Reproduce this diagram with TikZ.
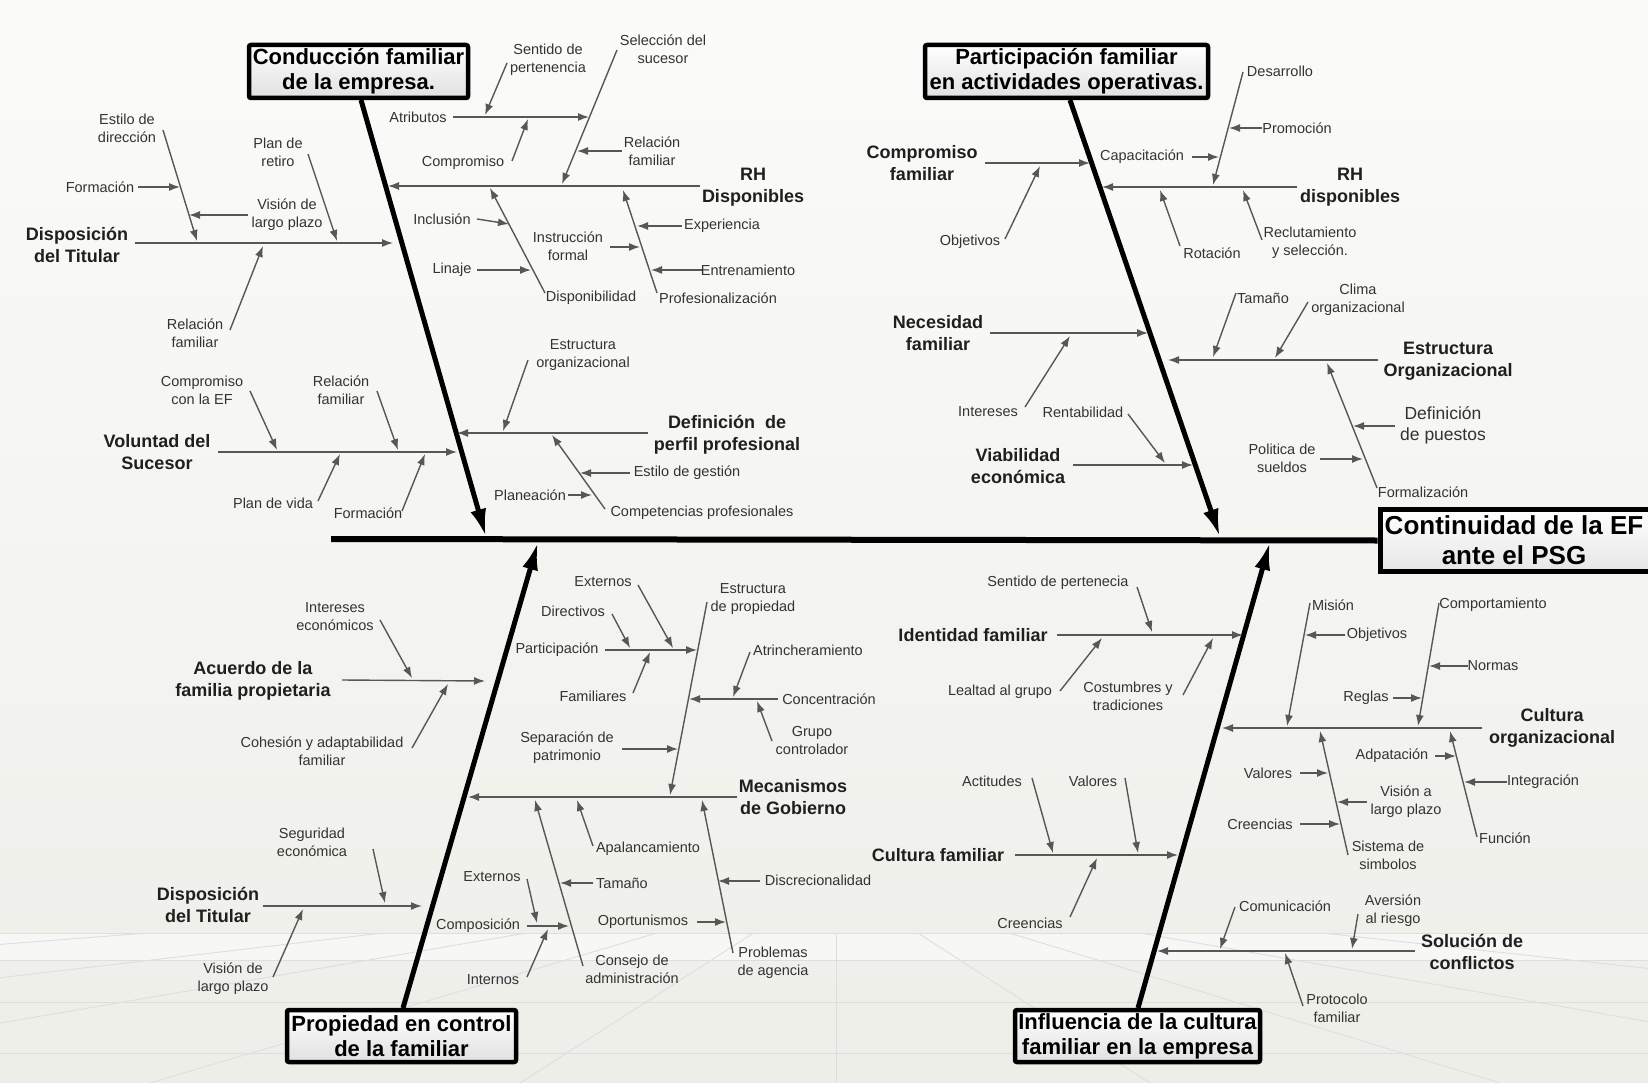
\documentclass[tikz,border=0pt]{standalone}
\usepackage{fontspec}
\setmainfont{Liberation Sans}
\usetikzlibrary{arrows.meta}
\definecolor{bgtop}{RGB}{251,251,249}
\definecolor{bgbot}{RGB}{238,238,233}
\newcommand\arw[3]{\coordinate (#1a) at (#2); \coordinate (#1b) at (#3); \draw[arr] (#1a) -- (#1b);}
\begin{document}
\begin{tikzpicture}[x=1pt,y=-1pt,
  lbl/.style={font=\fontsize{14.5}{18}\selectfont, text=black!80, align=center, inner sep=0pt},
  cat/.style={font=\bfseries\fontsize{18}{22}\selectfont, text=black!88, align=center, inner sep=0pt},
  ttl/.style={draw=black, line width=4.5pt, rounded corners=2pt, top color=white, bottom color=black!12, font=\bfseries\fontsize{22}{25}\selectfont, align=center, inner sep=0pt},
  arr/.style={draw=black!66, line width=1.4pt, -{Latex[length=11pt,width=8pt]}},
  bone/.style={draw=black, line width=5pt, -{Latex[length=28pt,width=16pt]}},
  bgl/.style={draw=black!13, line width=0.9pt}
]
\useasboundingbox (0,0) rectangle (1648,1083);
\clip (0,0) rectangle (1648,1083);
\shade[top color=bgtop, bottom color=bgbot] (0,0) rectangle (1648,1083);
% faint floor grid
\fill[white, opacity=0.5] (0,933) rectangle (1648,960);
\draw[bgl] (0,933) -- (1648,933);
\draw[bgl] (0,960) -- (1648,960);
\draw[bgl] (0,1002) -- (1648,1002);
\draw[bgl] (0,1053) -- (1648,1053);
\draw[bgl] (836,933) -- (836,1083);
\begin{scope}
\clip (0,933) rectangle (1648,1083);
\coordinate (vp) at (836,880);
\foreach \xb in {-3500,-1800,-900,-350,150,520,1150,1500,2000,2700,4200}
  \draw[bgl] (vp) -- (\xb,1083);
\end{scope}

% spine and result
\coordinate (sp0) at (331,539);
\node[draw=black, line width=5pt, top color=white, bottom color=black!10, minimum width=300pt, minimum height=62pt, inner sep=0pt] (resbox) at (1530,540.5) {};
\draw[line width=6pt] (sp0) -- (resbox.west);
\node[font=\bfseries\fontsize{26}{30}\selectfont, align=center, inner sep=0pt] (res) at (1514,540) {Continuidad de la EF\\ante el PSG};

% main bones
\coordinate (A0) at (361,100); \coordinate (A1) at (486,537);
\draw[bone] (A0) -- (A1);
\coordinate (B0) at (1070,100); \coordinate (B1) at (1220,537);
\draw[bone] (B0) -- (B1);
\coordinate (C0) at (403,1008); \coordinate (C1) at (538,542);
\draw[bone] (C0) -- (C1);
\coordinate (D0) at (1138,1008); \coordinate (D1) at (1270,542);
\draw[bone] (D0) -- (D1);

\node[ttl, minimum width=219pt, minimum height=53pt] (tA) at (358.5,71.5) {Conducción familiar\\de la empresa.};
\node[ttl, minimum width=283pt, minimum height=53pt] (tB) at (1066.5,71.5) {Participación familiar\\en actividades operativas.};
\node[ttl, minimum width=229pt, minimum height=52pt] (tC) at (401.5,1036) {Propiedad en control\\de la familiar};
\node[ttl, minimum width=245pt, minimum height=52pt] (tD) at (1137.5,1036) {Influencia de la cultura\\familiar en la empresa};

% ===== A: Conducción familiar
\node[cat] (A1l) at (77,245) {Disposición\\del Titular};
\arw{A1}{135,243}{393,243}
\node[lbl] (A11l) at (127,128) {Estilo de\\dirección};
\arw{A11}{163,130}{197,241}
\node[lbl] (A111l) at (100,187) {Formación};
\arw{A111}{138,187}{180,187}
\node[lbl] (A112l) at (287,215) {Visión de\\largo plazo};
\arw{A112}{248,215}{189,215}
\node[lbl] (A12l) at (278,152) {Plan de\\retiro};
\arw{A12}{308,154}{337,241}
\node[lbl] (A13l) at (195,333) {Relación\\familiar};
\arw{A13}{230,330}{263,246}

\node[cat] (A2l) at (157,452) {Voluntad del\\Sucesor};
\arw{A2}{218,452}{457,452}
\node[lbl] (A21l) at (202,390) {Compromiso\\con la EF};
\arw{A21}{250,391}{277,450}
\node[lbl] (A22l) at (341,390) {Relación\\familiar};
\arw{A22}{377,391}{398,450}
\node[lbl] (A23l) at (273,503) {Plan de vida};
\arw{A23}{318,501}{340,454}
\node[lbl] (A24l) at (368,513) {Formación};
\arw{A24}{402,511}{425,454}

\node[cat] (A3l) at (753,187) {RH\\Disponibles};
\arw{A3}{700,186}{388,186}
\node[lbl] (A31l) at (663,49) {Selección del\\sucesor};
\arw{A31}{617,50}{562,184}
\node[lbl] (A311l) at (652,151) {Relación\\familiar};
\arw{A311}{622,151}{577,151}
\node[lbl] (A312l) at (418,117) {Atributos};
\arw{A312}{453,117}{589,117}
\node[lbl] (A3121l) at (548,60) {Sentido de\\pertenencia};
\arw{A3121}{507,63}{485,115}
\node[lbl] (A3122l) at (463,163) {Compromiso};
\arw{A3122}{512,161}{528,119}
\node[lbl] (A32l) at (591,298) {Disponibilidad};
\arw{A32}{545,293}{490,188}
\node[lbl] (A321l) at (442,219) {Inclusión};
\arw{A321}{477,219}{509,224}
\node[lbl] (A322l) at (452,270) {Linaje};
\arw{A322}{477,270}{531,270}
\node[lbl] (A33l) at (718,298) {Profesionalización};
\arw{A33}{657,293}{623,190}
\node[lbl] (A331l) at (722,226) {Experiencia};
\arw{A331}{682,226}{637,226}
\node[lbl] (A332l) at (568,246) {Instrucción\\formal};
\arw{A332}{610,247}{640,247}
\node[lbl] (A333l) at (748,270) {Entrenamiento};
\arw{A333}{702,270}{651,270}

\node[cat] (A4l) at (727,435) {Definición~ de\\perfil profesional};
\arw{A4}{648,433}{457,433}
\node[lbl] (A41l) at (583,355) {Estructura\\organizacional};
\arw{A41}{528,360}{503,431}
\node[lbl] (A42l) at (702,513) {Competencias profesionales};
\arw{A42}{605,509}{552,435}
\node[lbl] (A421l) at (687,473) {Estilo de gestión};
\arw{A421}{630,473}{580,473}
\node[lbl] (A422l) at (530,495) {Planeación};
\arw{A422}{568,495}{592,495}

% ===== B: Participación familiar
\node[cat] (B1l) at (922,163) {Compromiso\\familiar};
\arw{B1}{985,163}{1090,163}
\node[lbl] (B11l) at (970,242) {Objetivos};
\arw{B11}{1005,239}{1040,166}
\node[cat] (B2l) at (938,333) {Necesidad\\familiar};
\arw{B2}{990,333}{1148,333}
\node[lbl] (B21l) at (988,412) {Intereses};
\arw{B21}{1025,407}{1070,336}
\node[cat] (B3l) at (1018,466) {Viabilidad\\económica};
\arw{B3}{1073,465}{1193,465}
\node[lbl] (B31l) at (1083,412) {Rentabilidad};
\arw{B31}{1128,414}{1165,463}

\node[cat] (B4l) at (1350,187) {RH\\disponibles};
\arw{B4}{1297,187}{1102,187}
\node[lbl] (B41l) at (1280,71) {Desarrollo};
\arw{B41}{1243,72}{1213,185}
\node[lbl] (B411l) at (1297,128) {Promoción};
\arw{B411}{1262,128}{1229,128}
\node[lbl] (B412l) at (1142,157) {Capacitación};
\arw{B412}{1192,157}{1219,157}
\node[lbl] (B42l) at (1212,253) {Rotación};
\arw{B42}{1180,246}{1160,190}
\node[lbl] (B43l) at (1310,243) {Reclutamiento\\y selección.};
\arw{B43}{1262,240}{1243,190}

\node[cat] (B5l) at (1448,361) {Estructura\\Organizacional};
\arw{B5}{1378,360}{1168,360}
\node[lbl] (B51l) at (1263,298) {Tamaño};
\arw{B51}{1236,293}{1213,357}
\node[lbl] (B52l) at (1358,300) {Clima\\organizacional};
\arw{B52}{1308,302}{1275,358}
\node[lbl] (B53l) at (1423,492) {Formalización};
\arw{B53}{1377,488}{1327,363}
\node[lbl, font=\fontsize{17.5}{21}\selectfont] (B531l) at (1443,425) {Definición\\de puestos};
\arw{B531}{1395,426}{1353,426}
\node[lbl] (B532l) at (1282,458) {Politica de\\sueldos};
\arw{B532}{1320,459}{1363,459}

% ===== C: Propiedad en control
\node[cat] (C1l) at (253,681) {Acuerdo de la\\familia propietaria};
\arw{C1}{342,680}{485,681}
\node[lbl] (C11l) at (335,617) {Intereses\\económicos};
\arw{C11}{380,620}{412,678}
\node[lbl] (C12l) at (322,751) {Cohesión y adaptabilidad\\familiar};
\arw{C12}{412,748}{448,684}
\node[cat] (C2l) at (208,905) {Disposición\\del Titular};
\arw{C2}{263,906}{422,906}
\node[lbl] (C21l) at (312,842) {Seguridad\\económica};
\arw{C21}{373,849}{385,903}
\node[lbl] (C22l) at (233,979) {Visión de\\largo plazo};
\arw{C22}{273,977}{303,909}

\node[cat] (C3l) at (793,797) {Mecanismos\\de Gobierno};
\arw{C3}{737,797}{468,797}
\node[lbl] (C31l) at (753,599) {Estructura\\de propiedad};
\arw{C31}{707,602}{670,795}
\node[lbl] (C311l) at (557,650) {Participación};
\arw{C311}{605,650}{697,650}
\node[lbl] (C3111l) at (603,582) {Externos};
\arw{C3111}{638,585}{673,648}
\node[lbl] (C3112l) at (573,611) {Directivos};
\arw{C3112}{612,614}{630,648}
\node[lbl] (C3113l) at (593,696) {Familiares};
\arw{C3113}{633,693}{650,652}
\node[lbl] (C312l) at (829,699) {Concentración};
\arw{C312}{778,699}{689,699}
\node[lbl] (C3121l) at (808,650) {Atrincheramiento};
\arw{C3121}{750,652}{733,697}
\node[lbl] (C3122l) at (812,741) {Grupo\\controlador};
\arw{C3122}{772,741}{757,701}
\node[lbl] (C313l) at (567,748) {Separación de\\patrimonio};
\arw{C313}{622,749}{678,749}
\node[lbl] (C32l) at (632,969) {Consejo de\\administración};
\arw{C32}{583,966}{535,800}
\node[lbl] (C321l) at (622,883) {Tamaño};
\arw{C321}{593,883}{560,883}
\node[lbl] (C322l) at (478,926) {Composición};
\arw{C322}{527,926}{569,926}
\node[lbl] (C3221l) at (492,877) {Externos};
\arw{C3221}{527,879}{537,923}
\node[lbl] (C3222l) at (493,980) {Internos};
\arw{C3222}{527,977}{548,929}
\node[lbl] (C33l) at (648,849) {Apalancamiento};
\arw{C33}{593,846}{577,800}
\node[lbl] (C34l) at (773,963) {Problemas\\de agencia};
\arw{C34}{733,953}{702,800}
\node[lbl] (C341l) at (818,880) {Discrecionalidad};
\arw{C341}{760,881}{718,881}
\node[lbl] (C342l) at (643,922) {Oportunismos};
\arw{C342}{697,922}{726,922}

% ===== D: Influencia de la cultura
\node[cat] (D1l) at (973,635) {Identidad familiar};
\arw{D1}{1057,635}{1243,635}
\node[lbl] (D11l) at (1058,583) {Sentido de pertenecia};
\arw{D11}{1137,587}{1152,632}
\node[lbl] (D12l) at (1000,692) {Lealtad al grupo};
\arw{D12}{1060,691}{1102,638}
\node[lbl] (D13l) at (1128,696) {Costumbres y\\tradiciones};
\arw{D13}{1183,695}{1213,638}
\node[cat] (D2l) at (938,855) {Cultura familiar};
\arw{D2}{1015,855}{1178,855}
\node[lbl] (D21l) at (992,781) {Actitudes};
\arw{D21}{1032,778}{1053,853}
\node[lbl] (D22l) at (1093,781) {Valores};
\arw{D22}{1125,778}{1138,853}
\node[lbl] (D23l) at (1030,923) {Creencias};
\arw{D23}{1070,917}{1097,858}

\node[cat] (D3l) at (1552,728) {Cultura\\organizacional};
\arw{D3}{1482,728}{1222,728}
\node[lbl] (D31l) at (1333,605) {Misión};
\arw{D31}{1310,603}{1287,726}
\node[lbl] (D311l) at (1377,635) {Objetivos};
\arw{D311}{1345,635}{1305,635}
\node[lbl] (D32l) at (1493,605) {Comportamiento};
\arw{D32}{1439,603}{1418,726}
\node[lbl] (D321l) at (1493,666) {Normas};
\arw{D321}{1468,666}{1429,666}
\node[lbl] (D322l) at (1366,698) {Reglas};
\arw{D322}{1393,698}{1422,698}
\node[lbl] (D33l) at (1388,855) {Sistema de\\simbolos};
\arw{D33}{1348,855}{1320,731}
\node[lbl] (D331l) at (1268,773) {Valores};
\arw{D331}{1300,773}{1328,773}
\node[lbl] (D332l) at (1406,802) {Visión a\\largo plazo};
\arw{D332}{1367,802}{1337,802}
\node[lbl] (D333l) at (1260,824) {Creencias};
\arw{D333}{1300,824}{1340,824}
\node[lbl] (D34l) at (1505,838) {Función};
\arw{D34}{1477,837}{1450,731}
\node[lbl] (D341l) at (1392,756) {Adpatación};
\arw{D341}{1435,756}{1456,756}
\node[lbl] (D342l) at (1543,782) {Integración};
\arw{D342}{1507,782}{1464,782}
\node[cat] (D4l) at (1472,952) {Solución de\\conflictos};
\arw{D4}{1415,951}{1157,951}
\node[lbl] (D41l) at (1285,906) {Comunicación};
\arw{D41}{1235,907}{1220,949}
\node[lbl] (D42l) at (1393,911) {Aversión\\al riesgo};
\arw{D42}{1358,914}{1352,949}
\node[lbl] (D43l) at (1337,1008) {Protocolo\\familiar};
\arw{D43}{1303,1006}{1285,953}
\end{tikzpicture}
\end{document}
